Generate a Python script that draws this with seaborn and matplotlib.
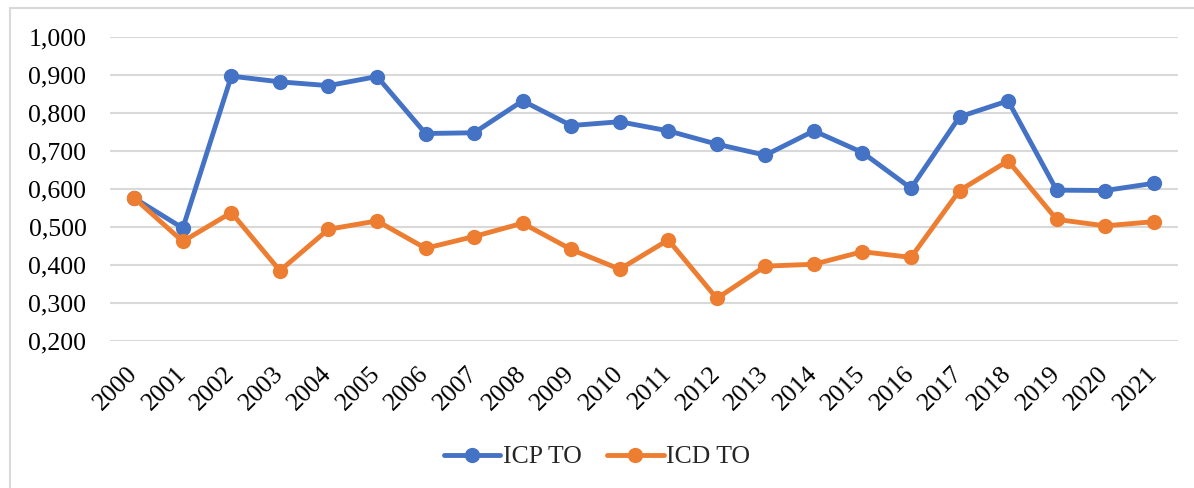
import pandas as pd
import seaborn as sns
import matplotlib.pyplot as plt
from matplotlib.patches import Rectangle
from matplotlib.ticker import FuncFormatter

# data
years = [str(y) for y in range(2000, 2022)]
icp_to = [0.576, 0.497, 0.897, 0.882, 0.872, 0.896, 0.746, 0.748, 0.832, 0.767, 0.777,
          0.753, 0.718, 0.689, 0.753, 0.696, 0.602, 0.790, 0.832, 0.597, 0.596, 0.615]
icd_to = [0.576, 0.462, 0.538, 0.385, 0.494, 0.516, 0.444, 0.475, 0.510, 0.441, 0.389,
          0.466, 0.312, 0.397, 0.402, 0.435, 0.420, 0.596, 0.674, 0.520, 0.503, 0.514]
series_names = ['ICP TO', 'ICD TO']
colors = ['#4472C4', '#ED7D31']

df = pd.DataFrame({'Ano': years * 2,
                   'Valor': icp_to + icd_to,
                   'Serie': [series_names[0]] * len(years) + [series_names[1]] * len(years)})

sns.set_theme(style='white')
plt.rcParams['font.family'] = ['Liberation Serif', 'DejaVu Serif']

fig = plt.figure(figsize=(11.94, 4.88), dpi=100)
ax = fig.add_axes([110 / 1194, 1 - 341 / 488, (1178 - 110) / 1194, (341 - 37) / 488])

# light frame of the chart area
fig.patches.append(Rectangle((10 / 1194, -0.1), 1.2, 1 - 8 / 488 + 0.1, transform=fig.transFigure,
                             fill=False, edgecolor='#D9D9D9', linewidth=1.5))

sns.lineplot(data=df, x='Ano', y='Valor', hue='Serie', palette=colors, marker='o',
             markersize=11, markeredgewidth=0, linewidth=3.5, sort=False, ax=ax)

ax.set_ylim(0.2, 1.0)
ax.set_xlim(-0.5, len(years) - 0.5)
ax.set_yticks([0.2 + 0.1 * i for i in range(9)])
ax.yaxis.set_major_formatter(FuncFormatter(lambda v, p: f'{v:.3f}'.replace('.', ',')))
ax.grid(axis='y', color='#D9D9D9', linewidth=1.5)
ax.set_axisbelow(True)
for s in ax.spines.values():
    s.set_visible(False)
ax.tick_params(axis='both', length=0, labelsize=18.5, colors='black')
ax.tick_params(axis='y', pad=17)
ax.tick_params(axis='x', pad=21)
plt.setp(ax.get_xticklabels(), rotation=45, ha='right', va='center', rotation_mode='anchor')
ax.set_xlabel('')
ax.set_ylabel('')

handles, labels = ax.get_legend_handles_labels()
ax.legend(handles, labels, loc='center', bbox_to_anchor=(0.5, 1 - 457 / 488), bbox_transform=fig.transFigure,
          ncol=2, frameon=False, fontsize=18.5, handlelength=2.2, columnspacing=1.0, handletextpad=0.1)

plt.savefig('out.png', dpi=100)
